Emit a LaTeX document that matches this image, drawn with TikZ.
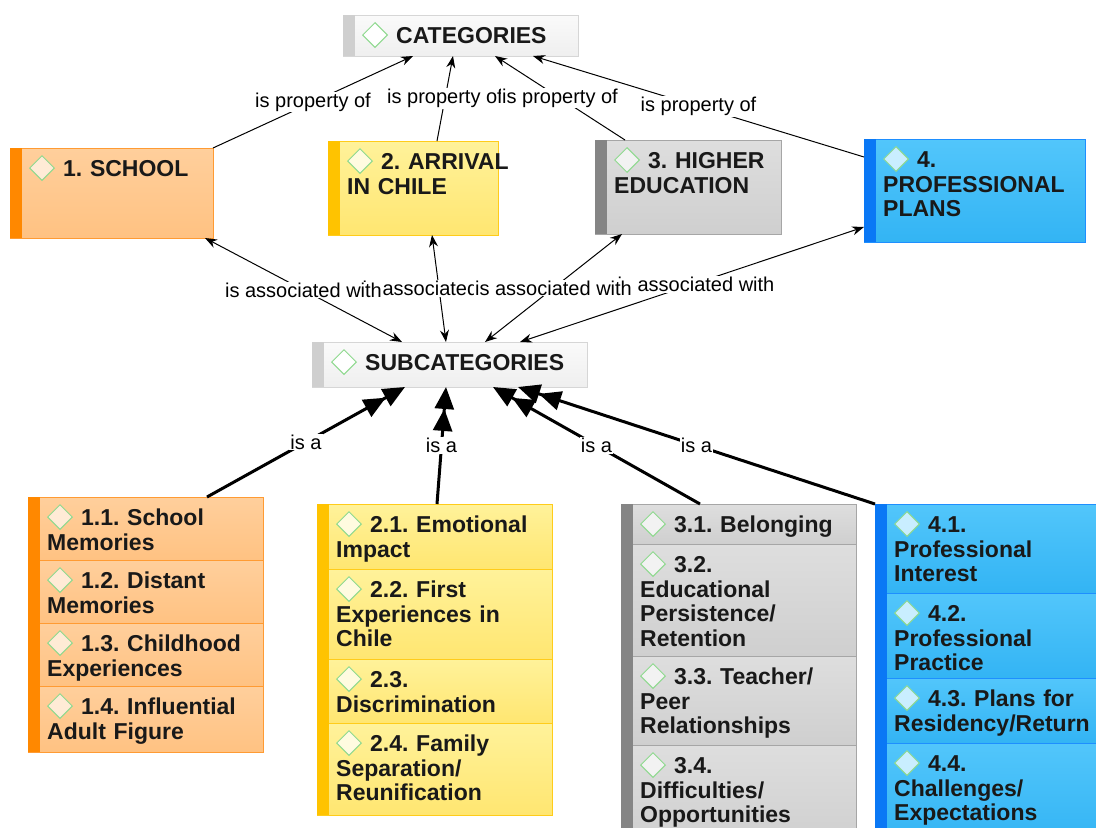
\documentclass[tikz,border=0pt]{standalone}
\usepackage{fontspec}
\setmainfont{Liberation Sans}
\frenchspacing
\usetikzlibrary{calc,arrows.meta,shapes.geometric}

\definecolor{orgtop}{HTML}{FFCF9C}\definecolor{orgbot}{HTML}{FFC282}
\definecolor{orgline}{HTML}{FF9B33}\definecolor{orgbar}{HTML}{FF8800}\definecolor{orgdia}{HTML}{FFEBD6}
\definecolor{yeltop}{HTML}{FFF29A}\definecolor{yelbot}{HTML}{FFE671}
\definecolor{yelline}{HTML}{FFCC1A}\definecolor{yelbar}{HTML}{FFC300}\definecolor{yeldia}{HTML}{FFFBE0}
\definecolor{grytop}{HTML}{DEDEDE}\definecolor{grybot}{HTML}{CFCFCF}
\definecolor{gryline}{HTML}{A6A6A6}\definecolor{grybar}{HTML}{858585}\definecolor{grydia}{HTML}{F2F2F2}
\definecolor{blutop}{HTML}{52C6FB}\definecolor{blubot}{HTML}{33B4F4}
\definecolor{bluline}{HTML}{1E8FFF}\definecolor{blubar}{HTML}{0A78F5}\definecolor{bludia}{HTML}{C9EEFF}
\definecolor{whttop}{HTML}{FAFAFA}\definecolor{whtbot}{HTML}{EFEFEF}
\definecolor{whtline}{HTML}{D6D6D6}\definecolor{whtbar}{HTML}{CFCFCF}\definecolor{whtdia}{HTML}{FFFFFF}
\definecolor{diagreen}{HTML}{8ED98E}

\tikzset{
  box/.style={draw, line width=1pt, inner sep=0pt, outer sep=0pt, anchor=north west},
  diam/.style={diamond, draw=diagreen, line width=1pt, inner sep=0pt, minimum width=25pt, minimum height=25pt},
  celltext/.style={font=\bfseries\fontsize{23}{24.5}\selectfont, text width=270pt, align=left, inner sep=0pt, anchor=base west, text=black!90},
  lbl/.style={font=\fontsize{20}{22}\selectfont, fill=white, inner sep=1pt},
  prop/.style={-{Stealth[length=12pt,width=9pt]}, line width=1pt},
  assoc/.style={{Stealth[length=12pt,width=9pt]}-{Stealth[length=12pt,width=9pt]}, line width=1pt},
  isa/.style={-{Triangle[length=22pt,width=19pt] Triangle[length=22pt,width=19pt]}, line width=3pt},
}
% name, x, y, width, height, colour, text
\newcommand{\cbox}[7]{%
  \node[box, draw=#6line, top color=#6top, bottom color=#6bot, minimum width=#4pt, minimum height=#5pt] (#1) at (#2,#3) {};
  \fill[#6bar] (#1.north west) rectangle ($(#1.south west)+(12,0)$);
  \node[diam, fill=#6dia] (#1d) at ($(#1.north west)+(32,20)$) {};
  \node[celltext] (#1t) at ($(#1.north west)+(19,28.5)$) {\hspace*{34pt}#7};
}

\begin{document}
\begin{tikzpicture}[x=1pt,y=-1pt]
  \useasboundingbox (0,0) rectangle (1096,828);
  \clip (0,0) rectangle (1096,828);
  \def\gw{235}

  %%% top level
  \cbox{cats}{343}{15}{235}{41}{wht}{CATEGORIES}
  \cbox{subs}{312}{342}{275}{45}{wht}{SUBCATEGORIES}

  \cbox{school}{10}{148}{203}{90}{org}{1. SCHOOL}
  \cbox{arrival}{328}{141}{170}{94}{yel}{2. ARRIVAL\\IN CHILE}
  \cbox{higher}{595}{140}{186}{94}{gry}{3. HIGHER\\EDUCATION}
  \cbox{plans}{864}{139}{221}{103}{blu}{4.\\PROFESSIONAL\\PLANS}

  %%% subcategory groups
  \cbox{s11}{28}{497}{\gw}{63}{org}{1.1. School\\Memories}
  \cbox{s12}{28}{560}{\gw}{63}{org}{1.2. Distant\\Memories}
  \cbox{s13}{28}{623}{\gw}{63}{org}{1.3. Childhood\\Experiences}
  \cbox{s14}{28}{686}{\gw}{66}{org}{1.4. Influential\\Adult Figure}

  \cbox{s21}{317}{504}{\gw}{65}{yel}{2.1. Emotional\\Impact}
  \cbox{s22}{317}{569}{\gw}{90}{yel}{2.2. First\\Experiences in\\Chile}
  \cbox{s23}{317}{659}{\gw}{64}{yel}{2.3.\\Discrimination}
  \cbox{s24}{317}{723}{\gw}{92}{yel}{2.4. Family\\Separation/\\Reunification}

  \cbox{s31}{621}{504}{\gw}{40}{gry}{3.1. Belonging}
  \cbox{s32}{621}{544}{\gw}{112}{gry}{3.2.\\Educational\\Persistence/\\Retention}
  \cbox{s33}{621}{656}{\gw}{89}{gry}{3.3. Teacher/\\Peer\\Relationships}
  \cbox{s34}{621}{745}{\gw}{100}{gry}{3.4.\\Difficulties/\\Opportunities}

  \cbox{s41}{875}{504}{\gw}{89}{blu}{4.1.\\Professional\\Interest}
  \cbox{s42}{875}{593}{\gw}{85}{blu}{4.2.\\Professional\\Practice}
  \cbox{s43}{875}{678}{\gw}{65}{blu}{4.3. Plans for\\Residency/Return}
  \cbox{s44}{875}{743}{\gw}{100}{blu}{4.4.\\Challenges/\\Expectations}

  %%% is property of
  \draw[prop] (school.north east) -- ($(cats.south west)+(70,0)$) node[lbl,midway] (p1) {is property of};
  \draw[prop] ($(arrival.north west)+(109,0)$) -- ($(cats.south west)+(110,0)$) node[lbl,midway] (p2) {is property of};
  \draw[prop] ($(higher.north west)+(30,0)$) -- ($(cats.south west)+(152,0)$) node[lbl,midway] (p3) {is property of};
  \draw[prop] ($(plans.north west)+(0,18)$) -- ($(cats.south west)+(190,0)$) node[lbl,midway] (p4) {is property of};

  %%% is associated with
  \draw[assoc] ($(arrival.south west)+(104,0)$) -- ($(subs.north west)+(134,0)$) node[lbl,midway,xshift=2pt] (a2) {is associated with};
  \draw[assoc] ($(plans.north west)+(0,88)$) -- ($(subs.north west)+(208,0)$) node[lbl,midway,xshift=4pt] (a4) {is associated with};
  \draw[assoc] ($(school.south west)+(195,0)$) -- ($(subs.north west)+(90,0)$) node[lbl,midway] (a1) {is associated with};
  \draw[assoc] ($(higher.south west)+(27,0)$) -- ($(subs.north west)+(173,0)$) node[lbl,midway] (a3) {is associated with};

  %%% is a
  \draw[isa] ($(s11.north west)+(179,0)$) -- ($(subs.south west)+(93,0)$) node[lbl,midway] (i1) {is a};
  \draw[isa] ($(s21.north west)+(120,0)$) -- ($(subs.south west)+(134,0)$) node[lbl,midway] (i2) {is a};
  \draw[isa] ($(s31.north west)+(79,0)$) -- ($(subs.south west)+(181,0)$) node[lbl,midway] (i3) {is a};
  \draw[isa] (s41.north west) -- ($(subs.south west)+(206,0)$) node[lbl,midway] (i4) {is a};
\end{tikzpicture}
\end{document}
